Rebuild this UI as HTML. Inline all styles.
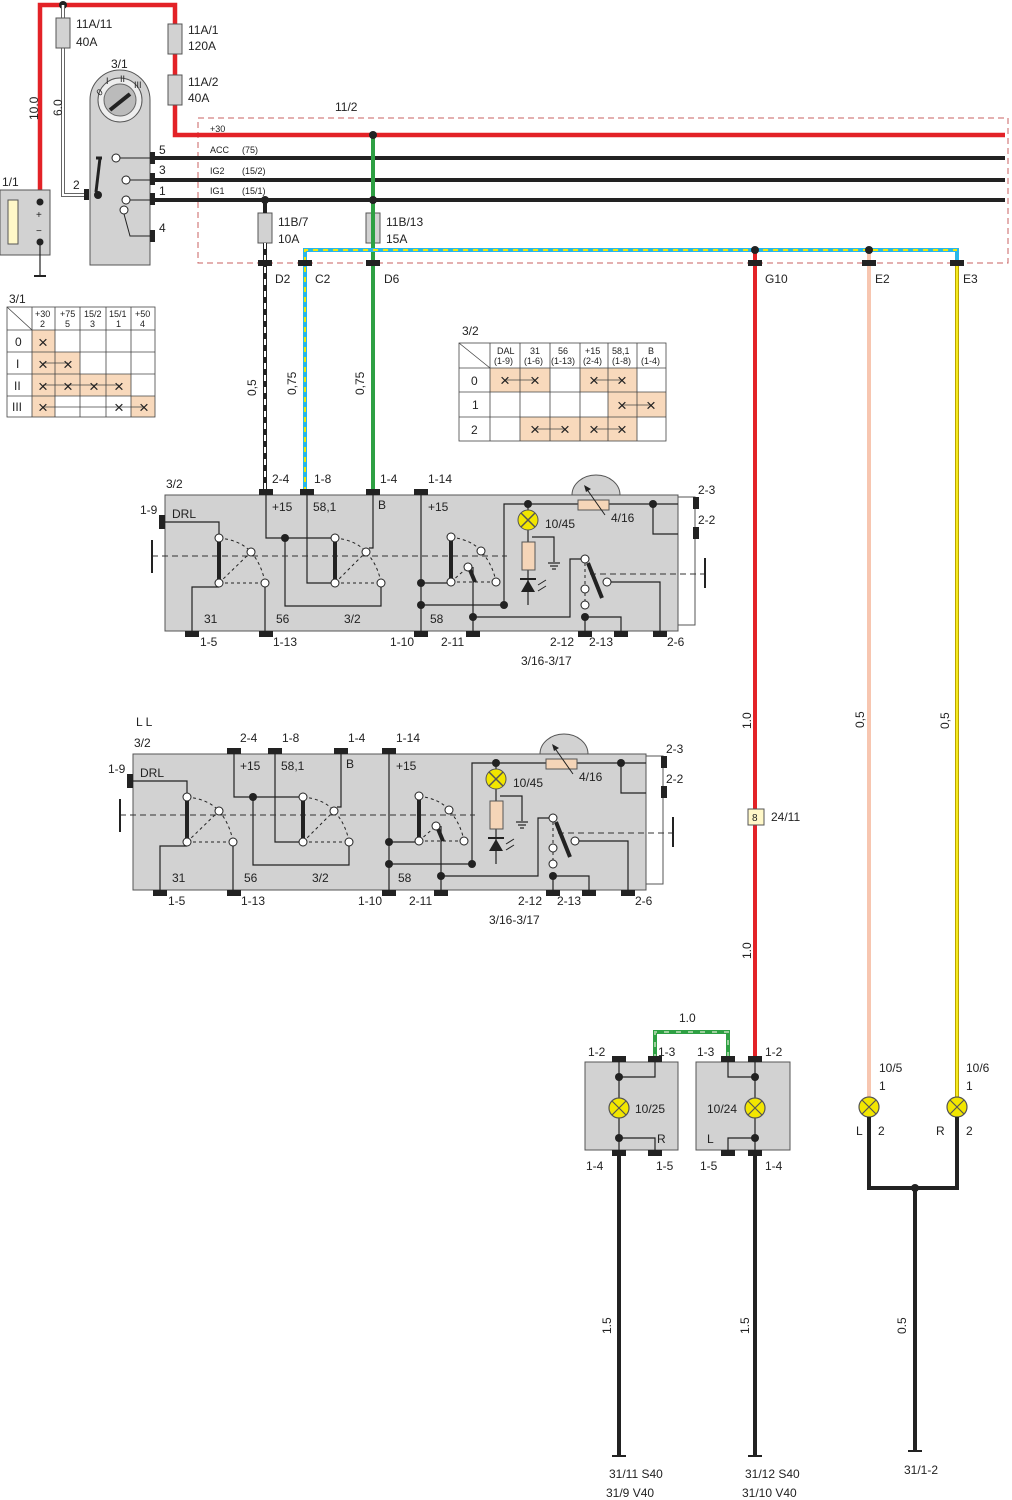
<!DOCTYPE html>
<html><head><meta charset="utf-8"><style>
html,body{margin:0;padding:0;background:#fff;}
svg{display:block;font-family:"Liberation Sans",Arial,sans-serif;}
text{font-size:12px;fill:#222;}
.s{font-size:10px;}
.xs{font-size:9px;}
.x{font-size:17px;}
</style></head><body>
<svg width="1012" height="1500" viewBox="0 0 1012 1500" xmlns="http://www.w3.org/2000/svg">
<rect x="198" y="118" width="810" height="145" fill="none" stroke="#c86060" stroke-width="1" stroke-dasharray="6,4"/>
<text x="335" y="111">11/2</text>

<polyline points="40,190 40,5 175,5 175,135 1005,135" fill="none" stroke="#e32227" stroke-width="4.5"/>
<circle cx="63" cy="5" r="4" fill="#222"/>
<polyline points="63,5 63,195 88,195" fill="none" stroke="#666" stroke-width="4"/>
<polyline points="63,5 63,195 88,195" fill="none" stroke="#fff" stroke-width="2"/>
<g fill="#d2d2d2" stroke="#555" stroke-width="1">
<rect x="56" y="18" width="14" height="30"/>
<rect x="168" y="24" width="14" height="30"/>
<rect x="168" y="75" width="14" height="30"/>
<rect x="258" y="213" width="14" height="30"/>
<rect x="366" y="213" width="14" height="30"/>
</g>
<text x="76" y="28">11A/11</text><text x="76" y="46">40A</text>
<text x="188" y="34">11A/1</text><text x="188" y="50">120A</text>
<text x="188" y="86">11A/2</text><text x="188" y="102">40A</text>
<text x="278" y="226">11B/7</text><text x="278" y="243">10A</text>
<text x="386" y="226">11B/13</text><text x="386" y="243">15A</text>
<text x="22" y="116" transform="rotate(-90 32 110)">10.0</text>
<text x="50" y="116" transform="rotate(-90 56 110)">6.0</text>

<rect x="0" y="190" width="50" height="65" fill="#d2d2d2" stroke="#555"/>
<rect x="8" y="200" width="10" height="44" fill="#fff8c8" stroke="#555"/>
<circle cx="40" cy="202" r="3.5" fill="#222"/><circle cx="40" cy="242" r="3.5" fill="#222"/>
<text x="36" y="218" class="s">+</text><text x="36" y="234" class="s">−</text>
<line x1="40" y1="242" x2="40" y2="275" stroke="#222" stroke-width="1.2"/>
<line x1="34" y1="276" x2="46" y2="276" stroke="#222" stroke-width="2"/>
<text x="2" y="186">1/1</text>

<text x="111" y="68">3/1</text>
<path d="M90,265 V100 A30,30 0 0 1 150,100 V265 Z" fill="#d2d2d2" stroke="#555"/>
<circle cx="120" cy="100" r="22" fill="#eee" stroke="#555"/>
<circle cx="120" cy="100" r="16" fill="#bbb" stroke="#666"/>
<line x1="110" y1="110" x2="130" y2="94" stroke="#222" stroke-width="4"/>
<text x="97" y="95" class="xs" transform="rotate(-40 100 92)">0</text>
<text x="106" y="84" class="xs">I</text><text x="120" y="82" class="xs">II</text><text x="134" y="88" class="xs">III</text>
<line x1="100" y1="158" x2="96" y2="192" stroke="#222" stroke-width="3"/>
<line x1="96" y1="158" x2="102" y2="158" stroke="#222" stroke-width="3"/>
<circle cx="98" cy="195" r="4" fill="#222"/>
<circle cx="116" cy="158" r="4" fill="#fff" stroke="#222"/>
<circle cx="126" cy="180" r="4" fill="#fff" stroke="#222"/>
<circle cx="126" cy="200" r="4" fill="#fff" stroke="#222"/>
<circle cx="124" cy="210" r="4" fill="#fff" stroke="#222"/>
<polyline points="120,158 152,158" stroke="#222" fill="none"/>
<polyline points="130,180 152,180" stroke="#222" fill="none"/>
<polyline points="130,200 152,200" stroke="#222" fill="none"/>
<polyline points="124,214 130,236 152,236" stroke="#222" fill="none"/>
<g fill="#222"><rect x="84" y="189" width="5" height="11"/><rect x="150" y="152" width="5" height="12"/><rect x="150" y="173" width="5" height="12"/><rect x="150" y="193" width="5" height="12"/><rect x="150" y="230" width="5" height="12"/></g>
<text x="73" y="189">2</text><text x="159" y="154">5</text><text x="159" y="174">3</text><text x="159" y="195">1</text><text x="159" y="232">4</text>

<g stroke="#222" stroke-width="4"><line x1="155" y1="158" x2="1005" y2="158"/><line x1="155" y1="180" x2="1005" y2="180"/><line x1="155" y1="200" x2="1005" y2="200"/></g>
<text x="210" y="132" class="xs">+30</text>
<text x="210" y="153" class="xs">ACC</text><text x="242" y="153" class="xs">(75)</text>
<text x="210" y="174" class="xs">IG2</text><text x="242" y="174" class="xs">(15/2)</text>
<text x="210" y="194" class="xs">IG1</text><text x="242" y="194" class="xs">(15/1)</text>

<line x1="373" y1="135" x2="373" y2="492" stroke="#2ea043" stroke-width="4"/>
<circle cx="373" cy="135" r="4" fill="#222"/><circle cx="373" cy="200" r="4" fill="#222"/>
<line x1="265" y1="200" x2="265" y2="213" stroke="#222" stroke-width="4"/>
<circle cx="265" cy="200" r="4" fill="#222"/>
<line x1="265" y1="243" x2="265" y2="492" stroke="#222" stroke-width="4"/>
<line x1="265" y1="243" x2="265" y2="492" stroke="#fff" stroke-width="2" stroke-dasharray="6,6"/>
<polyline points="305,492 305,250 957,250 957,265" fill="none" stroke="#29b6e8" stroke-width="4"/>
<polyline points="305,492 305,250 957,250" fill="none" stroke="#f2e600" stroke-width="2" stroke-dasharray="5,5"/>
<line x1="755" y1="250" x2="755" y2="1060" stroke="#e32227" stroke-width="4"/>
<line x1="869" y1="250" x2="869" y2="1100" stroke="#f7c6b0" stroke-width="4"/>
<line x1="957" y1="262" x2="957" y2="1100" stroke="#bba600" stroke-width="4"/>
<line x1="957" y1="262" x2="957" y2="1100" stroke="#f5ea20" stroke-width="2"/>
<circle cx="755" cy="250" r="4" fill="#222"/><circle cx="869" cy="250" r="4" fill="#222"/>
<g fill="#222"><rect x="258" y="260" width="14" height="6"/><rect x="298" y="260" width="14" height="6"/><rect x="366" y="260" width="14" height="6"/><rect x="748" y="260" width="14" height="6"/><rect x="862" y="260" width="14" height="6"/><rect x="950" y="260" width="14" height="6"/></g>
<text x="275" y="283">D2</text><text x="315" y="283">C2</text><text x="384" y="283">D6</text><text x="765" y="283">G10</text><text x="875" y="283">E2</text><text x="963" y="283">E3</text>
<text x="244" y="396" transform="rotate(-90 250 390)">0,5</text>
<text x="280" y="391" transform="rotate(-90 290 385)">0,75</text>
<text x="348" y="391" transform="rotate(-90 358 385)">0,75</text>
<text x="736" y="726" transform="rotate(-90 745 720)">1.0</text>
<text x="850" y="726" transform="rotate(-90 858 720)">0,5</text>
<text x="934" y="726" transform="rotate(-90 943 720)">0,5</text>
<text x="736" y="956" transform="rotate(-90 745 950)">1.0</text>
<rect x="748" y="809" width="16" height="16" fill="#fff8c8" stroke="#555"/>
<text x="752" y="821" class="s">8</text><text x="771" y="821">24/11</text>

<text x="9" y="303">3/1</text>
<g fill="#f8d9bc"><rect x="32" y="330" width="23" height="22"/><rect x="32" y="352" width="48" height="22"/><rect x="32" y="374" width="99" height="22"/><rect x="32" y="396" width="23" height="21"/><rect x="131" y="396" width="24" height="21"/></g>
<g stroke="#444" stroke-width="0.8" fill="none">
<rect x="7" y="307" width="148" height="110"/>
<line x1="7" y1="330" x2="155" y2="330"/><line x1="7" y1="352" x2="155" y2="352"/><line x1="7" y1="374" x2="155" y2="374"/><line x1="7" y1="396" x2="155" y2="396"/>
<line x1="32" y1="307" x2="32" y2="417"/><line x1="55" y1="307" x2="55" y2="417"/><line x1="80" y1="307" x2="80" y2="417"/><line x1="106" y1="307" x2="106" y2="417"/><line x1="131" y1="307" x2="131" y2="417"/>
<line x1="7" y1="307" x2="32" y2="330"/>
<line x1="43" y1="363" x2="68" y2="363"/><line x1="43" y1="385" x2="119" y2="385"/><line x1="43" y1="407" x2="143" y2="407"/>
</g>
<text x="35" y="317" class="xs">+30</text><text x="40" y="327" class="xs">2</text>
<text x="60" y="317" class="xs">+75</text><text x="65" y="327" class="xs">5</text>
<text x="84" y="317" class="xs">15/2</text><text x="90" y="327" class="xs">3</text>
<text x="109" y="317" class="xs">15/1</text><text x="116" y="327" class="xs">1</text>
<text x="135" y="317" class="xs">+50</text><text x="140" y="327" class="xs">4</text>
<text x="15" y="346">0</text><text x="16" y="368">I</text><text x="14" y="390">II</text><text x="12" y="411">III</text>
<g><text x="38" y="348" class="x">×</text><text x="38" y="370" class="x">×</text><text x="63" y="370" class="x">×</text>
<text x="38" y="392" class="x">×</text><text x="63" y="392" class="x">×</text><text x="89" y="392" class="x">×</text><text x="114" y="392" class="x">×</text>
<text x="38" y="413" class="x">×</text><text x="114" y="413" class="x">×</text><text x="139" y="413" class="x">×</text></g>

<text x="462" y="335">3/2</text>
<g fill="#f8d9bc"><rect x="490" y="368" width="60" height="24"/><rect x="580" y="368" width="57" height="24"/><rect x="608" y="392" width="58" height="25"/><rect x="520" y="417" width="60" height="24"/><rect x="580" y="417" width="57" height="24"/></g>
<g stroke="#444" stroke-width="0.8" fill="none">
<rect x="459" y="343" width="207" height="98"/>
<line x1="459" y1="368" x2="666" y2="368"/><line x1="459" y1="392" x2="666" y2="392"/><line x1="459" y1="417" x2="666" y2="417"/>
<line x1="490" y1="343" x2="490" y2="441"/><line x1="520" y1="343" x2="520" y2="441"/><line x1="550" y1="343" x2="550" y2="441"/><line x1="580" y1="343" x2="580" y2="441"/><line x1="608" y1="343" x2="608" y2="441"/><line x1="637" y1="343" x2="637" y2="441"/>
<line x1="459" y1="343" x2="490" y2="368"/>
<line x1="505" y1="380" x2="535" y2="380"/><line x1="594" y1="380" x2="622" y2="380"/><line x1="622" y1="405" x2="651" y2="405"/><line x1="535" y1="429" x2="565" y2="429"/><line x1="594" y1="429" x2="622" y2="429"/>
</g>
<text x="497" y="354" class="xs">DAL</text><text x="494" y="364" class="xs">(1-9)</text>
<text x="530" y="354" class="xs">31</text><text x="524" y="364" class="xs">(1-6)</text>
<text x="558" y="354" class="xs">56</text><text x="551" y="364" class="xs">(1-13)</text>
<text x="585" y="354" class="xs">+15</text><text x="583" y="364" class="xs">(2-4)</text>
<text x="612" y="354" class="xs">58,1</text><text x="612" y="364" class="xs">(1-8)</text>
<text x="648" y="354" class="xs">B</text><text x="641" y="364" class="xs">(1-4)</text>
<text x="471" y="385">0</text><text x="472" y="409">1</text><text x="471" y="434">2</text>
<g><text x="500" y="386" class="x">×</text><text x="530" y="386" class="x">×</text><text x="589" y="386" class="x">×</text><text x="617" y="386" class="x">×</text><text x="617" y="411" class="x">×</text><text x="646" y="411" class="x">×</text><text x="530" y="435" class="x">×</text><text x="560" y="435" class="x">×</text><text x="589" y="435" class="x">×</text><text x="617" y="435" class="x">×</text></g>

<!-- MODULE 1 -->
<g>
<rect x="678" y="497" width="17" height="128" fill="#fff" stroke="#555"/>
<path d="M572,495 A24,20 0 0 1 620,495 Z" fill="#d2d2d2" stroke="#555"/>
<rect x="165" y="495" width="513" height="136" fill="#d2d2d2" stroke="#555"/>
<g fill="#222"><rect x="259" y="489" width="14" height="6"/><rect x="300" y="489" width="14" height="6"/><rect x="366" y="489" width="14" height="6"/><rect x="414" y="489" width="14" height="6"/>
<rect x="185" y="631" width="14" height="6"/><rect x="259" y="631" width="14" height="6"/><rect x="414" y="631" width="14" height="6"/><rect x="466" y="631" width="14" height="6"/><rect x="578" y="631" width="14" height="6"/><rect x="614" y="631" width="14" height="6"/><rect x="653" y="631" width="14" height="6"/>
<rect x="159" y="515" width="6" height="14"/><rect x="693" y="497" width="6" height="12"/><rect x="693" y="527" width="6" height="12"/></g>
<g stroke="#222" stroke-width="1.2" fill="none">
<polyline points="165,522 219,522 219,535"/>
<polyline points="219,587 192,587 192,631"/>
<polyline points="265,587 265,631"/>
<polyline points="266,495 266,538 331,538"/>
<polyline points="285,538 285,606 381,606 381,587"/>
<polyline points="307,495 307,583 331,583"/>
<polyline points="373,495 373,548 369,548"/>
<polyline points="421,495 421,631"/>
<polyline points="421,583 447,583"/>
<polyline points="421,605 504,605 504,504 578,504"/>
<polyline points="609,504 678,504"/>
<polyline points="653,504 653,534 678,534"/>
<polyline points="473,567 473,631"/>
<polyline points="473,617 570,617 570,559 581,559"/>
<polyline points="585,617 585,631"/><polyline points="585,617 621,617 621,631"/>
<polyline points="611,582 660,582 660,631"/>
<polyline points="528,530 528,542"/><polyline points="528,570 528,605"/>
<polyline points="532,537 554,537 554,562"/>
<line x1="548" y1="563" x2="560" y2="563"/><line x1="550" y1="566" x2="558" y2="566"/><line x1="552" y1="569" x2="556" y2="569"/>
</g>
<line x1="152" y1="556" x2="507" y2="556" stroke="#333" stroke-dasharray="6,4"/>
<line x1="590" y1="574" x2="705" y2="574" stroke="#333" stroke-dasharray="6,4"/>
<line x1="152" y1="540" x2="152" y2="573" stroke="#222" stroke-width="2"/>
<line x1="705" y1="558" x2="705" y2="588" stroke="#222" stroke-width="2"/>
<g stroke="#222" stroke-width="1" fill="none" stroke-dasharray="3,3">
<path d="M219,538 Q240,540 251,552 Q262,565 265,583"/><line x1="219" y1="583" x2="251" y2="552"/><line x1="219" y1="583" x2="265" y2="583"/>
<path d="M335,538 Q356,540 366,552 Q378,565 381,583"/><line x1="335" y1="583" x2="366" y2="552"/><line x1="335" y1="583" x2="381" y2="583"/>
<path d="M451,537 Q472,540 481,551 Q493,565 496,582"/><line x1="451" y1="582" x2="468" y2="567"/><line x1="451" y1="582" x2="496" y2="582"/>
<line x1="585" y1="563" x2="585" y2="605"/>
</g>
<line x1="219" y1="541" x2="219" y2="580" stroke="#222" stroke-width="4"/>
<line x1="335" y1="541" x2="335" y2="580" stroke="#222" stroke-width="4"/>
<line x1="451" y1="540" x2="451" y2="579" stroke="#222" stroke-width="4"/>
<line x1="470" y1="570" x2="475" y2="582" stroke="#222" stroke-width="4"/>
<line x1="588" y1="563" x2="602" y2="598" stroke="#222" stroke-width="4"/>
<g fill="#fff" stroke="#222"><circle cx="219" cy="538" r="4"/><circle cx="219" cy="583" r="4"/><circle cx="251" cy="552" r="4"/><circle cx="265" cy="583" r="4"/>
<circle cx="335" cy="538" r="4"/><circle cx="335" cy="583" r="4"/><circle cx="366" cy="552" r="4"/><circle cx="381" cy="583" r="4"/>
<circle cx="451" cy="537" r="4"/><circle cx="451" cy="582" r="4"/><circle cx="481" cy="551" r="4"/><circle cx="496" cy="582" r="4"/><circle cx="468" cy="567" r="4"/>
<circle cx="585" cy="559" r="4"/><circle cx="585" cy="589" r="4"/><circle cx="585" cy="605" r="4"/><circle cx="607" cy="582" r="4"/></g>
<g fill="#222"><circle cx="285" cy="538" r="4"/><circle cx="421" cy="583" r="4"/><circle cx="421" cy="605" r="4"/><circle cx="504" cy="605" r="4"/><circle cx="528" cy="504" r="4"/><circle cx="653" cy="504" r="4"/><circle cx="473" cy="617" r="4"/><circle cx="585" cy="617" r="4"/></g>
<rect x="578" y="500" width="31" height="10" fill="#f5d5b8" stroke="#555"/>
<line x1="605" y1="515" x2="586" y2="488" stroke="#222"/><path d="M584,485 L591,489 L586,492 Z" fill="#222"/>
<line x1="528" y1="504" x2="528" y2="512" stroke="#222" stroke-width="1.2"/>
<circle cx="528" cy="520" r="10" fill="#f2e600" stroke="#555"/>
<path d="M521,513 L535,527 M535,513 L521,527" stroke="#555" stroke-width="1.5"/>
<rect x="522" y="542" width="13" height="28" fill="#f5d5b8" stroke="#555"/>
<path d="M521,592 L535,592 L528,580 Z" fill="#222"/><line x1="520" y1="579" x2="536" y2="579" stroke="#222" stroke-width="2"/>
<path d="M538,585 L546,580 M538,591 L546,586" stroke="#222"/>
<text x="172" y="518">DRL</text><text x="272" y="511">+15</text><text x="313" y="511">58,1</text><text x="378" y="509">B</text><text x="428" y="511">+15</text>
<text x="545" y="528">10/45</text><text x="611" y="522">4/16</text>
<text x="204" y="623">31</text><text x="276" y="623">56</text><text x="344" y="623">3/2</text><text x="430" y="623">58</text>
<text x="166" y="488">3/2</text><text x="140" y="514">1-9</text>
<text x="272" y="483">2-4</text><text x="314" y="483">1-8</text><text x="380" y="483">1-4</text><text x="428" y="483">1-14</text>
<text x="698" y="494">2-3</text><text x="698" y="524">2-2</text>
<text x="200" y="646">1-5</text><text x="273" y="646">1-13</text><text x="390" y="646">1-10</text><text x="441" y="646">2-11</text><text x="550" y="646">2-12</text><text x="589" y="646">2-13</text><text x="667" y="646">2-6</text>
<text x="521" y="665">3/16-3/17</text>
</g>

<!-- MODULE 2 -->
<g transform="translate(-32,259)">
<rect x="678" y="497" width="17" height="128" fill="#fff" stroke="#555"/>
<path d="M572,495 A24,20 0 0 1 620,495 Z" fill="#d2d2d2" stroke="#555"/>
<rect x="165" y="495" width="513" height="136" fill="#d2d2d2" stroke="#555"/>
<g fill="#222"><rect x="259" y="489" width="14" height="6"/><rect x="300" y="489" width="14" height="6"/><rect x="366" y="489" width="14" height="6"/><rect x="414" y="489" width="14" height="6"/>
<rect x="185" y="631" width="14" height="6"/><rect x="259" y="631" width="14" height="6"/><rect x="414" y="631" width="14" height="6"/><rect x="466" y="631" width="14" height="6"/><rect x="578" y="631" width="14" height="6"/><rect x="614" y="631" width="14" height="6"/><rect x="653" y="631" width="14" height="6"/>
<rect x="159" y="515" width="6" height="14"/><rect x="693" y="497" width="6" height="12"/><rect x="693" y="527" width="6" height="12"/></g>
<g stroke="#222" stroke-width="1.2" fill="none">
<polyline points="165,522 219,522 219,535"/>
<polyline points="219,587 192,587 192,631"/>
<polyline points="265,587 265,631"/>
<polyline points="266,495 266,538 331,538"/>
<polyline points="285,538 285,606 381,606 381,587"/>
<polyline points="307,495 307,583 331,583"/>
<polyline points="373,495 373,548 369,548"/>
<polyline points="421,495 421,631"/>
<polyline points="421,583 447,583"/>
<polyline points="421,605 504,605 504,504 578,504"/>
<polyline points="609,504 678,504"/>
<polyline points="653,504 653,534 678,534"/>
<polyline points="473,567 473,631"/>
<polyline points="473,617 570,617 570,559 581,559"/>
<polyline points="585,617 585,631"/><polyline points="585,617 621,617 621,631"/>
<polyline points="611,582 660,582 660,631"/>
<polyline points="528,530 528,542"/><polyline points="528,570 528,605"/>
<polyline points="532,537 554,537 554,562"/>
<line x1="548" y1="563" x2="560" y2="563"/><line x1="550" y1="566" x2="558" y2="566"/><line x1="552" y1="569" x2="556" y2="569"/>
</g>
<line x1="152" y1="556" x2="507" y2="556" stroke="#333" stroke-dasharray="6,4"/>
<line x1="590" y1="574" x2="705" y2="574" stroke="#333" stroke-dasharray="6,4"/>
<line x1="152" y1="540" x2="152" y2="573" stroke="#222" stroke-width="2"/>
<line x1="705" y1="558" x2="705" y2="588" stroke="#222" stroke-width="2"/>
<g stroke="#222" stroke-width="1" fill="none" stroke-dasharray="3,3">
<path d="M219,538 Q240,540 251,552 Q262,565 265,583"/><line x1="219" y1="583" x2="251" y2="552"/><line x1="219" y1="583" x2="265" y2="583"/>
<path d="M335,538 Q356,540 366,552 Q378,565 381,583"/><line x1="335" y1="583" x2="366" y2="552"/><line x1="335" y1="583" x2="381" y2="583"/>
<path d="M451,537 Q472,540 481,551 Q493,565 496,582"/><line x1="451" y1="582" x2="468" y2="567"/><line x1="451" y1="582" x2="496" y2="582"/>
<line x1="585" y1="563" x2="585" y2="605"/>
</g>
<line x1="219" y1="541" x2="219" y2="580" stroke="#222" stroke-width="4"/>
<line x1="335" y1="541" x2="335" y2="580" stroke="#222" stroke-width="4"/>
<line x1="451" y1="540" x2="451" y2="579" stroke="#222" stroke-width="4"/>
<line x1="470" y1="570" x2="475" y2="582" stroke="#222" stroke-width="4"/>
<line x1="588" y1="563" x2="602" y2="598" stroke="#222" stroke-width="4"/>
<g fill="#fff" stroke="#222"><circle cx="219" cy="538" r="4"/><circle cx="219" cy="583" r="4"/><circle cx="251" cy="552" r="4"/><circle cx="265" cy="583" r="4"/>
<circle cx="335" cy="538" r="4"/><circle cx="335" cy="583" r="4"/><circle cx="366" cy="552" r="4"/><circle cx="381" cy="583" r="4"/>
<circle cx="451" cy="537" r="4"/><circle cx="451" cy="582" r="4"/><circle cx="481" cy="551" r="4"/><circle cx="496" cy="582" r="4"/><circle cx="468" cy="567" r="4"/>
<circle cx="585" cy="559" r="4"/><circle cx="585" cy="589" r="4"/><circle cx="585" cy="605" r="4"/><circle cx="607" cy="582" r="4"/></g>
<g fill="#222"><circle cx="285" cy="538" r="4"/><circle cx="421" cy="583" r="4"/><circle cx="421" cy="605" r="4"/><circle cx="504" cy="605" r="4"/><circle cx="528" cy="504" r="4"/><circle cx="653" cy="504" r="4"/><circle cx="473" cy="617" r="4"/><circle cx="585" cy="617" r="4"/></g>
<rect x="578" y="500" width="31" height="10" fill="#f5d5b8" stroke="#555"/>
<line x1="605" y1="515" x2="586" y2="488" stroke="#222"/><path d="M584,485 L591,489 L586,492 Z" fill="#222"/>
<line x1="528" y1="504" x2="528" y2="512" stroke="#222" stroke-width="1.2"/>
<circle cx="528" cy="520" r="10" fill="#f2e600" stroke="#555"/>
<path d="M521,513 L535,527 M535,513 L521,527" stroke="#555" stroke-width="1.5"/>
<rect x="522" y="542" width="13" height="28" fill="#f5d5b8" stroke="#555"/>
<path d="M521,592 L535,592 L528,580 Z" fill="#222"/><line x1="520" y1="579" x2="536" y2="579" stroke="#222" stroke-width="2"/>
<path d="M538,585 L546,580 M538,591 L546,586" stroke="#222"/>
<text x="172" y="518">DRL</text><text x="272" y="511">+15</text><text x="313" y="511">58,1</text><text x="378" y="509">B</text><text x="428" y="511">+15</text>
<text x="545" y="528">10/45</text><text x="611" y="522">4/16</text>
<text x="204" y="623">31</text><text x="276" y="623">56</text><text x="344" y="623">3/2</text><text x="430" y="623">58</text>
<text x="166" y="488">3/2</text><text x="140" y="514">1-9</text><text x="168" y="467">L L</text>
<text x="272" y="483">2-4</text><text x="314" y="483">1-8</text><text x="380" y="483">1-4</text><text x="428" y="483">1-14</text>
<text x="698" y="494">2-3</text><text x="698" y="524">2-2</text>
<text x="200" y="646">1-5</text><text x="273" y="646">1-13</text><text x="390" y="646">1-10</text><text x="441" y="646">2-11</text><text x="550" y="646">2-12</text><text x="589" y="646">2-13</text><text x="667" y="646">2-6</text>
<text x="521" y="665">3/16-3/17</text>
</g>

<polyline points="655,1059 655,1032 728,1032 728,1059" fill="none" stroke="#2ea043" stroke-width="4"/>
<polyline points="655,1059 655,1032 728,1032 728,1059" fill="none" stroke="#9ccf9c" stroke-width="2" stroke-dasharray="5,7"/>
<text x="679" y="1022">1.0</text>
<rect x="585" y="1062" width="93" height="88" fill="#d2d2d2" stroke="#555"/>
<rect x="696" y="1062" width="94" height="88" fill="#d2d2d2" stroke="#555"/>
<g fill="#222"><rect x="612" y="1056" width="14" height="6"/><rect x="648" y="1056" width="14" height="6"/><rect x="721" y="1056" width="14" height="6"/><rect x="748" y="1056" width="14" height="6"/>
<rect x="612" y="1150" width="14" height="6"/><rect x="648" y="1150" width="14" height="6"/><rect x="721" y="1150" width="14" height="6"/><rect x="748" y="1150" width="14" height="6"/></g>
<g stroke="#222" stroke-width="1.2" fill="none">
<polyline points="619,1062 619,1150"/><polyline points="619,1077 655,1077 655,1062"/><polyline points="619,1138 655,1138 655,1150"/>
<polyline points="755,1062 755,1150"/><polyline points="755,1077 728,1077 728,1062"/><polyline points="755,1138 728,1138 728,1150"/>
</g>
<g fill="#222"><circle cx="619" cy="1077" r="4"/><circle cx="619" cy="1138" r="4"/><circle cx="755" cy="1077" r="4"/><circle cx="755" cy="1138" r="4"/></g>
<g stroke="#555" stroke-width="1.2"><circle cx="619" cy="1108" r="10" fill="#f2e600"/><path d="M612,1101 L626,1115 M626,1101 L612,1115"/>
<circle cx="755" cy="1108" r="10" fill="#f2e600"/><path d="M748,1101 L762,1115 M762,1101 L748,1115"/>
<circle cx="869" cy="1107" r="10" fill="#f2e600"/><path d="M862,1100 L876,1114 M876,1100 L862,1114"/>
<circle cx="957" cy="1107" r="10" fill="#f2e600"/><path d="M950,1100 L964,1114 M964,1100 L950,1114"/></g>
<text x="635" y="1113">10/25</text><text x="707" y="1113">10/24</text>
<text x="657" y="1143">R</text><text x="707" y="1143">L</text>
<text x="588" y="1056">1-2</text><text x="658" y="1056">1-3</text><text x="697" y="1056">1-3</text><text x="765" y="1056">1-2</text>
<text x="586" y="1170">1-4</text><text x="656" y="1170">1-5</text><text x="700" y="1170">1-5</text><text x="765" y="1170">1-4</text>
<text x="879" y="1072">10/5</text><text x="879" y="1090">1</text><text x="966" y="1072">10/6</text><text x="966" y="1090">1</text>
<text x="856" y="1135">L</text><text x="878" y="1135">2</text><text x="936" y="1135">R</text><text x="966" y="1135">2</text>

<g stroke="#222" stroke-width="4" fill="none">
<line x1="619" y1="1156" x2="619" y2="1455"/><line x1="755" y1="1156" x2="755" y2="1455"/>
<polyline points="869,1117 869,1188 957,1188 957,1117"/><line x1="915" y1="1188" x2="915" y2="1450"/>
</g>
<circle cx="915" cy="1188" r="4" fill="#222"/>
<g stroke="#222" stroke-width="2"><line x1="612" y1="1456" x2="626" y2="1456"/><line x1="748" y1="1456" x2="762" y2="1456"/><line x1="908" y1="1451" x2="922" y2="1451"/></g>
<text x="596" y="1331" transform="rotate(-90 605 1325)">1.5</text>
<text x="734" y="1331" transform="rotate(-90 743 1325)">1.5</text>
<text x="891" y="1331" transform="rotate(-90 900 1325)">0.5</text>
<text x="609" y="1478">31/11 S40</text><text x="606" y="1497">31/9 V40</text>
<text x="745" y="1478">31/12 S40</text><text x="742" y="1497">31/10 V40</text>
<text x="904" y="1474">31/1-2</text>
</svg>
</body></html>
